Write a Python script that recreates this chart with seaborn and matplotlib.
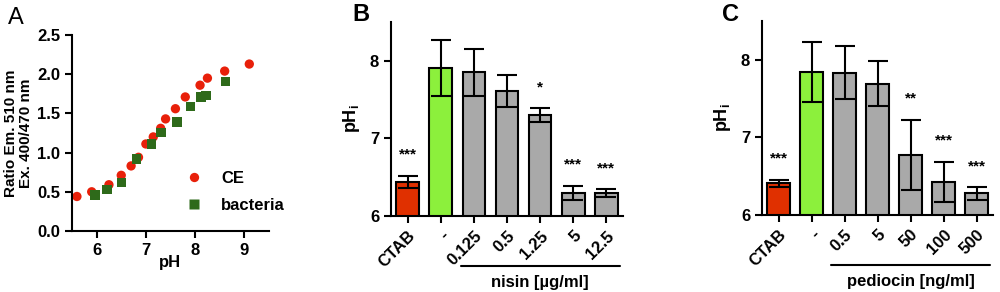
import numpy as np
import pandas as pd
import matplotlib
matplotlib.use("Agg")
import matplotlib.pyplot as plt
import matplotlib.transforms as mtransforms
import seaborn as sns

# ---- Panel A data ----
ce_ph = [5.6, 5.9, 6.25, 6.5, 6.7, 6.85, 7.0, 7.15, 7.3, 7.4, 7.6, 7.8, 8.1, 8.25, 8.6, 9.1]
ce_ratio = [0.44, 0.50, 0.59, 0.71, 0.83, 0.94, 1.11, 1.20, 1.31, 1.43, 1.56, 1.71, 1.86, 1.95, 2.04, 2.13]
bac_ph = [5.97, 6.21, 6.51, 6.81, 7.12, 7.31, 7.63, 7.91, 8.12, 8.22, 8.62]
bac_ratio = [0.46, 0.53, 0.62, 0.92, 1.11, 1.26, 1.39, 1.59, 1.71, 1.73, 1.91]

# ---- Panel B data ----
b_cats = ["CTAB", "-", "0.125", "0.5", "1.25", "5", "12.5"]
b_vals = [6.44, 7.91, 7.85, 7.61, 7.30, 6.30, 6.30]
b_err = [0.08, 0.36, 0.30, 0.20, 0.085, 0.09, 0.045]
b_sig = ["***", "", "", "", "*", "***", "***"]

# ---- Panel C data ----
c_cats = ["CTAB", "-", "0.5", "5", "50", "100", "500"]
c_vals = [6.41, 7.84, 7.83, 7.69, 6.78, 6.43, 6.28]
c_err = [0.045, 0.385, 0.34, 0.29, 0.45, 0.26, 0.08]
c_sig = ["***", "", "", "", "**", "***", "***"]

sns.set_style("ticks")
plt.rcParams['font.family'] = ['Liberation Sans', 'DejaVu Sans']
plt.rcParams['font.weight'] = 'bold'
plt.rcParams['axes.labelweight'] = 'bold'
plt.rcParams['axes.linewidth'] = 1.5
plt.rcParams['xtick.major.width'] = 1.5
plt.rcParams['ytick.major.width'] = 1.5
plt.rcParams['xtick.major.size'] = 5
plt.rcParams['ytick.major.size'] = 5
plt.rcParams['xtick.labelsize'] = 12
plt.rcParams['ytick.labelsize'] = 12
plt.rcParams['xtick.color'] = 'black'
plt.rcParams['ytick.color'] = 'black'
plt.rcParams['axes.edgecolor'] = 'black'
plt.rcParams['axes.labelcolor'] = 'black'
plt.rcParams['text.color'] = 'black'

fig = plt.figure(figsize=(10, 2.92), dpi=100)
axA = fig.add_axes([0.072, 0.209, 0.197, 0.671])
axB = fig.add_axes([0.391, 0.259, 0.232, 0.667])
axC = fig.add_axes([0.762, 0.263, 0.231, 0.666])

RED = "#E03000"
GREEN = "#8CF03C"
GRAY = "#A9A9A9"

# Panel A
dfA = pd.DataFrame({
    "pH": ce_ph + bac_ph,
    "ratio": ce_ratio + bac_ratio,
    "group": ["CE"] * len(ce_ph) + ["bacteria"] * len(bac_ph),
})
sns.scatterplot(data=dfA, x="pH", y="ratio", hue="group", style="group",
                markers={"CE": "o", "bacteria": "s"},
                palette={"CE": "#E8200A", "bacteria": "#2E6A1A"},
                s=45, edgecolor="none", ax=axA)
axA.set_xlim(5.5, 9.5)
axA.set_ylim(0, 2.5)
axA.set_xticks([6, 7, 8, 9])
axA.set_yticks([0, 0.5, 1.0, 1.5, 2.0, 2.5])
axA.set_yticklabels(["0.0", "0.5", "1.0", "1.5", "2.0", "2.5"])
axA.set_xlabel("pH", fontsize=12, labelpad=-2)
axA.set_ylabel("Ratio Em. 510 nm\nEx. 400/470 nm", fontsize=11, labelpad=3, linespacing=1.1)
axA.legend(loc="center left", bbox_to_anchor=(0.46, 0.2), frameon=False,
           labelspacing=0.7, handletextpad=0.6, prop={"size": 12, "weight": "bold"})
sns.despine(ax=axA)


def bar_panel(ax, cats, vals, errs, sig, group_label):
    df = pd.DataFrame({"cat": cats, "val": vals})
    colors = [RED, GREEN] + [GRAY] * (len(cats) - 2)
    sns.barplot(data=df, x="cat", y="val", hue="cat", palette=colors, legend=False,
                width=0.68, edgecolor="black", linewidth=1.5, saturation=1, ax=ax)
    x = np.arange(len(cats))
    ax.errorbar(x, vals, yerr=errs, fmt="none", ecolor="black", elinewidth=1.5,
                capsize=7, capthick=1.5, zorder=5)
    for xi, v, e, s in zip(x, vals, errs, sig):
        if s:
            ax.text(xi, v + e + 0.27, s, ha="center", va="center", fontsize=11)
    ax.set_ylim(6, 8.5)
    ax.set_xlim(-0.5, len(cats) - 0.5)
    ax.set_yticks([6, 7, 8])
    ax.set_xlabel("")
    ax.set_ylabel(r"pH$_\mathregular{i}$", fontsize=13, labelpad=6)
    ax.set_xticks(x)
    ax.set_xticklabels(cats, rotation=45, ha="right", rotation_mode="anchor")
    sns.despine(ax=ax)
    trans = mtransforms.blended_transform_factory(ax.transData, ax.transAxes)
    ax.plot([2 - 0.4, len(cats) - 1 + 0.4], [-0.255, -0.255], color="black", lw=1.5,
            transform=trans, clip_on=False)
    ax.text((2 + len(cats) - 1) / 2, -0.34, group_label, transform=trans,
            ha="center", va="center", fontsize=12)


bar_panel(axB, b_cats, b_vals, b_err, b_sig, "nisin [µg/ml]")
bar_panel(axC, c_cats, c_vals, c_err, c_sig, "pediocin [ng/ml]")

fig.text(0.008, 0.94, "A", fontsize=17, ha="left", va="center", fontweight="normal")
fig.text(0.352, 0.95, "B", fontsize=17, ha="left", va="center", fontweight="bold")
fig.text(0.722, 0.95, "C", fontsize=17, ha="left", va="center", fontweight="bold")

fig.savefig("out.png", dpi=100)
